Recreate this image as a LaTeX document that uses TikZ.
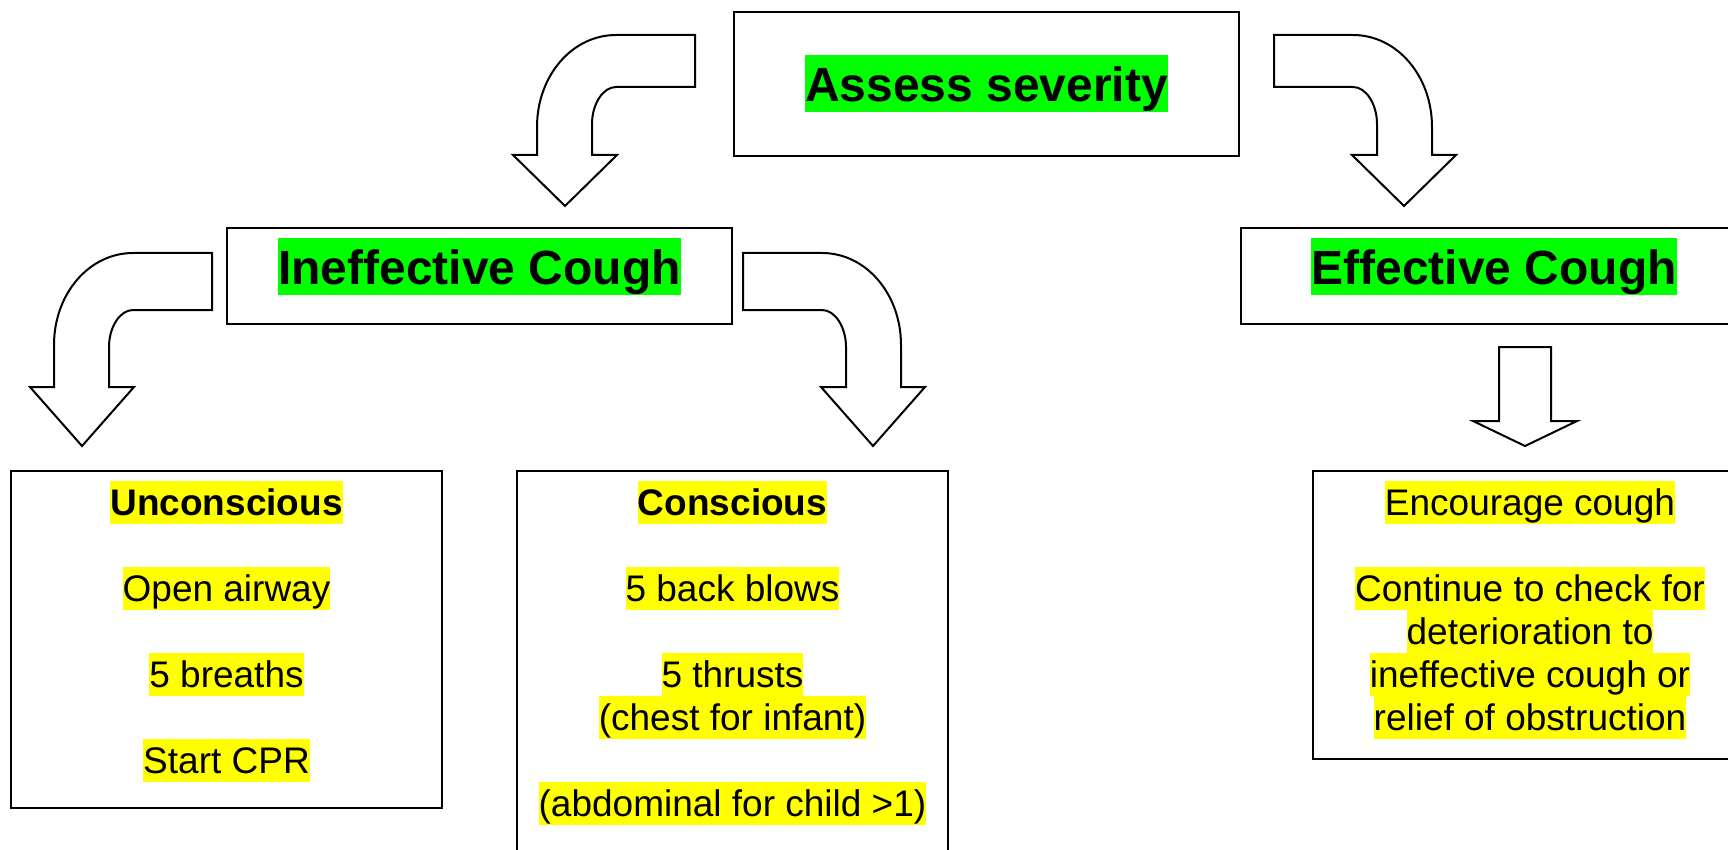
\documentclass[tikz,border=0pt]{standalone}
\usepackage{fontspec}
\setmainfont{Liberation Sans}
\usetikzlibrary{calc,positioning}

\definecolor{hlgreen}{RGB}{0,255,0}
\definecolor{hlyellow}{RGB}{255,255,0}

\newcommand{\greenhl}[1]{{\setlength{\fboxsep}{0pt}\colorbox{hlgreen}{\rule[-11pt]{0pt}{57pt}#1}}}
\newcommand{\yellowhl}[1]{{\setlength{\fboxsep}{0pt}\colorbox{hlyellow}{\rule[-8.7pt]{0pt}{43pt}#1}}}

\tikzset{
    box/.style={draw, line width=2pt, fill=white, inner sep=0pt},
    headtxt/.style={inner sep=0pt, font=\fontsize{48}{57}\selectfont\bfseries},
    bodytxt/.style={inner sep=0pt, align=center, font=\fontsize{37}{43}\selectfont},
    blockarrow/.style={draw, line width=2pt, fill=white},
    pics/bendarrow/.style n args={3}{code={
        \draw[blockarrow] (0,0) -- (-79,0)
            .. controls (-123,0) and (-158,41) .. (-158,92)
            -- (-158,#2) -- (-182,#2) -- (-130,#3) -- (-78,#2) -- (-103,#2)
            -- (-103,{#1+37}) .. controls (-103,{#1+17}) and (-92,#1) .. (-79,#1)
            -- (0,#1) -- cycle;
    }}
}

\begin{document}
\begin{tikzpicture}[x=1pt,y=-1pt]
    \useasboundingbox (0,0) rectangle (1728,850);
    \clip (0,0) rectangle (1728,850);

    % boxes
    \node[box, minimum width=505pt, minimum height=144pt] (assess) at (986.5,84) {};
    \node[box, minimum width=505pt, minimum height=96pt] (ineff) at (479.5,276) {};
    \node[box, minimum width=506pt, minimum height=96pt] (eff) at (1494,276) {};
    \node[box, minimum width=431pt, minimum height=337pt] (unc) at (226.5,639.5) {};
    \node[box, minimum width=431pt, minimum height=400pt] (con) at (732.5,671) {};
    \node[box, minimum width=434pt, minimum height=288pt] (enc) at (1530,615) {};

    % headings
    \node[headtxt] (assesstxt) at (assess) {\greenhl{Assess severity}};
    \node[headtxt, below=11pt of ineff.north] (inefftxt) {\greenhl{Ineffective Cough}};
    \node[headtxt, below=11pt of eff.north] (efftxt) {\greenhl{Effective Cough}};

    % steps
    \node[bodytxt, below=11pt of unc.north] (unctxt) {\yellowhl{\textbf{Unconscious}}\\[43pt]
        \yellowhl{Open airway}\\[43pt] \yellowhl{5 breaths}\\[43pt] \yellowhl{Start CPR}};
    \node[bodytxt, below=11pt of con.north] (contxt) {\yellowhl{\textbf{Conscious}}\\[43pt]
        \yellowhl{5 back blows}\\[43pt] \yellowhl{5 thrusts}\\ \yellowhl{(chest for infant)}\\[43pt]
        \yellowhl{(abdominal for child >1)}};
    \node[bodytxt, below=11pt of enc.north] (enctxt) {\yellowhl{Encourage cough}\\[43pt]
        \yellowhl{Continue to check for}\\ \yellowhl{deterioration to}\\
        \yellowhl{ineffective cough or}\\ \yellowhl{relief of obstruction}};

    % curved arrows
    \pic at ($(assess.north west)+(-38,24)$) {bendarrow={52}{120}{171}};
    \pic[xscale=-1] at ($(assess.north east)+(34,24)$) {bendarrow={52}{120}{171}};
    \pic at ($(ineff.north west)+(-14,26)$) {bendarrow={57}{134}{193}};
    \pic[xscale=-1] at ($(ineff.north east)+(10,26)$) {bendarrow={57}{134}{193}};

    % straight arrow
    \coordinate (etip) at ($(enc.north)+(-5,-24)$);
    \draw[blockarrow] (etip) -- ++(52,-25) -- ++(-26,0) -- ++(0,-74) -- ++(-52,0)
        -- ++(0,74) -- ++(-26,0) -- cycle;

\end{tikzpicture}
\end{document}
